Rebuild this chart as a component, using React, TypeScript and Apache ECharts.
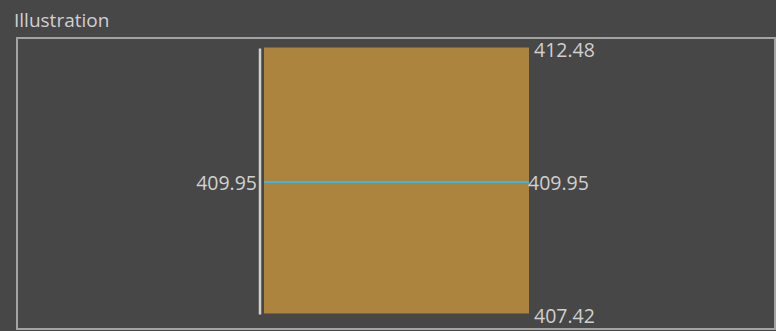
import React, { useEffect, useRef } from "react";
import * as echarts from "echarts";

const title = "Illustration";
const lowValue = 407.42;
const highValue = 412.48;
const midValue = 409.95;
const barData = [[0, 1, lowValue, highValue, midValue]];

export default function App() {
  const ref = useRef<HTMLDivElement>(null);
  useEffect(() => {
    document.body.style.margin = "0";
    const chart = echarts.init(ref.current!, null, { renderer: "svg" });
    const textColor = "#d0d0d0";
    const font = "Open Sans";
    chart.setOption({
      animation: false,
      backgroundColor: "#474747",
      title: {
        text: title,
        left: 9,
        top: 5,
        textStyle: { color: textColor, fontSize: 19, fontWeight: "normal", fontFamily: font },
      },
      graphic: [
        {
          type: "rect",
          shape: { x: 17, y: 38, width: 758, height: 291 },
          style: { fill: "none", stroke: "#a3a3a3", lineWidth: 2 },
          silent: true,
        },
      ],
      grid: { left: 264, top: 47.5, width: 265, height: 266, containLabel: false },
      xAxis: { type: "value", min: 0, max: 1, show: false },
      yAxis: { type: "value", min: lowValue, max: highValue, show: false },
      series: [
        {
          type: "custom",
          data: barData,
          renderItem: (params: any, api: any) => {
            const x0 = api.value(0);
            const x1 = api.value(1);
            const lo = api.value(2);
            const hi = api.value(3);
            const mid = api.value(4);
            const pTL = api.coord([x0, hi]);
            const pBR = api.coord([x1, lo]);
            const pMid = api.coord([x0, mid]);
            const left = pTL[0];
            const right = pBR[0];
            const top = pTL[1];
            const bottom = pBR[1];
            const midY = pMid[1] + 1.5;
            const ts = { fill: textColor, fontSize: 19.5, fontFamily: font };
            return {
              type: "group",
              children: [
                {
                  type: "rect",
                  shape: { x: left, y: top, width: right - left, height: bottom - top },
                  style: { fill: "#ac843d" },
                },
                {
                  type: "line",
                  shape: { x1: left - 4, y1: top + 1, x2: left - 4, y2: bottom + 1 },
                  style: { stroke: "#d0d0d0", lineWidth: 2.5 },
                },
                {
                  type: "line",
                  shape: { x1: left, y1: midY, x2: right, y2: midY },
                  style: { stroke: "#3fb4e4", lineWidth: 2 },
                },
                {
                  type: "text",
                  style: { ...ts, text: hi.toFixed(2), x: right + 5, y: top + 1.5, verticalAlign: "middle", align: "left" },
                },
                {
                  type: "text",
                  style: { ...ts, text: lo.toFixed(2), x: right + 5, y: bottom + 2, verticalAlign: "middle", align: "left" },
                },
                {
                  type: "text",
                  style: { ...ts, text: mid.toFixed(2), x: right - 1, y: midY, verticalAlign: "middle", align: "left" },
                },
                {
                  type: "text",
                  style: { ...ts, text: mid.toFixed(2), x: left - 7, y: midY, verticalAlign: "middle", align: "right" },
                },
              ],
            };
          },
        },
      ],
    });
    return () => chart.dispose();
  }, []);
  return <div ref={ref} style={{ width: 776, height: 331 }} />;
}
